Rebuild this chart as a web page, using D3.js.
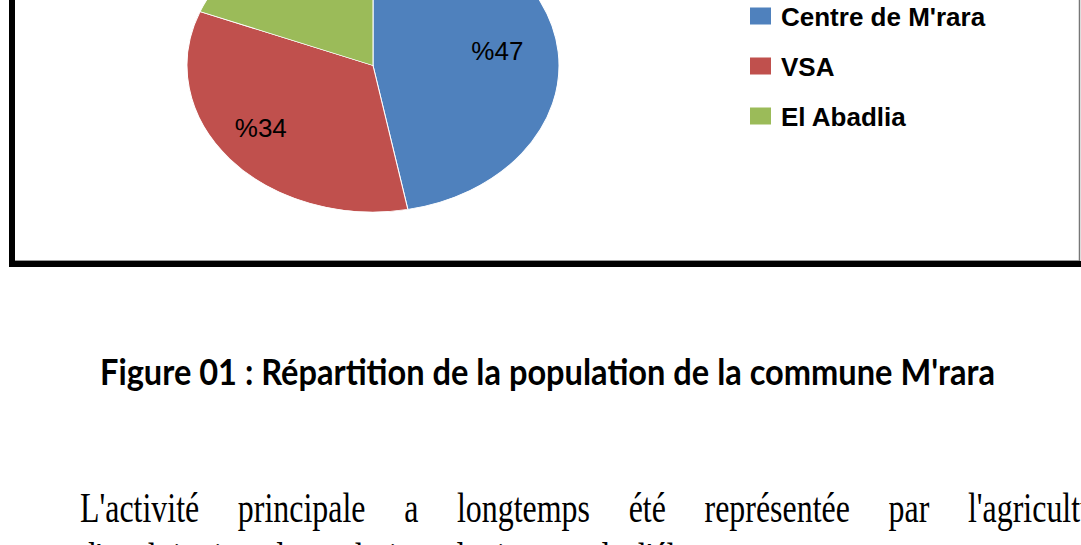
<!DOCTYPE html>
<html>
<head>
<meta charset="utf-8">
<script src="https://cdn.jsdelivr.net/npm/d3@7"></script>
<style>
  html, body { margin: 0; padding: 0; background: #fff; overflow: hidden; }
  svg { display: block; }
</style>
</head>
<body>
<script>
// population share by area
const categories = ["Centre de M'rara", "VSA", "El Abadlia"]
const values = [47, 34, 19]
const colors = ["#4F81BD", "#C0504D", "#9BBB59"]

const caption = "Figure 01 : Répartition de la population de la commune M'rara"
const bodyLine1 = ["L'activité", "principale", "a", "longtemps", "été", "représentée", "par", "l'agriculture"]
const bodyLine2 = ["d'exploitation", "des", "palmiers", "dattiers", "et", "de", "l'élevage."]

const width = 1081
const height = 545

const svg = d3.select("body").append("svg")
    .attr("width", width)
    .attr("height", height)

// frame of the chart (top is cut off)
svg.append("rect")
    .attr("x", 9).attr("y", -10)
    .attr("width", 6).attr("height", 277)
    .attr("fill", "#000")
svg.append("rect")
    .attr("x", 9).attr("y", 261)
    .attr("width", width - 9).attr("height", 6)
    .attr("fill", "#000")
svg.append("line")
    .attr("x1", 1079.5).attr("x2", 1079.5)
    .attr("y1", 0).attr("y2", 261)
    .attr("stroke", "#777").attr("stroke-width", 1.5)
svg.append("line")
    .attr("x1", 15).attr("x2", 1079)
    .attr("y1", 260.5).attr("y2", 260.5)
    .attr("stroke", "#999").attr("stroke-width", 1)

// pie (stretched into an ellipse)
const cx = 373, cy = 65.5
const rx = 186, ry = 146.5
const sx = rx / ry

const pie = d3.pie().sort(null).value(d => d)
const arcs = pie(values)
const arc = d3.arc().innerRadius(0).outerRadius(ry)
const labelArc = d3.arc().innerRadius(ry * 0.72).outerRadius(ry * 0.72)

svg.append("g")
    .attr("transform", "translate(" + cx + "," + cy + ") scale(" + sx + ",1)")
    .selectAll("path")
    .data(arcs)
    .enter()
    .append("path")
    .attr("d", arc)
    .attr("fill", (d, i) => colors[i])
    .attr("stroke", "#fff")
    .attr("stroke-width", 0.8)

svg.selectAll(".pie-label")
    .data(arcs)
    .enter()
    .append("text")
    .attr("class", "pie-label")
    .attr("x", d => cx + labelArc.centroid(d)[0] * sx - 9)
    .attr("y", d => cy + labelArc.centroid(d)[1] - 5)
    .attr("dy", "0.36em")
    .attr("text-anchor", "middle")
    .style("font-family", "'Liberation Sans', Arial, sans-serif")
    .style("font-size", "26px")
    .attr("fill", "#000")
    .text(d => "%" + d.data)

// legend
const legendY = d3.scalePoint().domain(categories).range([16, 116])
const legend = svg.selectAll(".legend")
    .data(categories)
    .enter()
    .append("g")
    .attr("class", "legend")
    .attr("transform", d => "translate(750," + legendY(d) + ")")
legend.append("rect")
    .attr("x", 0).attr("y", -8.5)
    .attr("width", 21).attr("height", 17)
    .attr("fill", (d, i) => colors[i])
legend.append("text")
    .attr("x", 31).attr("y", 10)
    .style("font-family", "'Liberation Sans', Arial, sans-serif")
    .style("font-weight", "bold")
    .style("font-size", "26px")
    .attr("fill", "#000")
    .text(d => d)

// caption below the chart
svg.append("text")
    .attr("x", 100).attr("y", 385)
    .attr("textLength", 895)
    .attr("lengthAdjust", "spacingAndGlyphs")
    .style("font-family", "Lato, 'Open Sans', sans-serif")
    .style("font-weight", "bold")
    .style("font-size", "36px")
    .attr("fill", "#000")
    .text(caption)

// justified body text, horizontally condensed like the page scan
const kx = 0.76
function drawLine(words, baseline, left, lastStart) {
    const g = svg.append("g")
        .attr("transform", "translate(0," + baseline + ") scale(" + kx + ",1)")
    const t = g.selectAll("text")
        .data(words)
        .enter()
        .append("text")
        .style("font-family", "'Liberation Serif', 'Times New Roman', serif")
        .style("font-size", "42px")
        .attr("fill", "#000")
        .text(d => d)
    const widths = []
    t.each(function () { widths.push(this.getComputedTextLength() * kx) })
    let gap = 14
    if (lastStart != null) {
        const used = d3.sum(widths.slice(0, -1))
        gap = (lastStart - left - used) / (words.length - 1)
    }
    let x = left
    t.attr("x", (d, i) => {
        const pos = x
        x += widths[i] + gap
        return pos / kx
    })
}
drawLine(bodyLine1, 522, 80, 968)
drawLine(bodyLine2, 572, 80, null)
</script>
</body>
</html>
